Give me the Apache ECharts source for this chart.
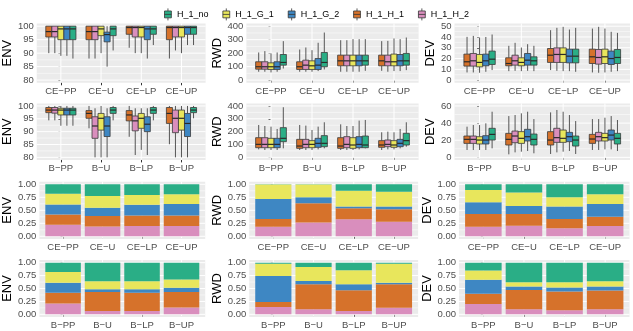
<!DOCTYPE html>
<html><head><meta charset="utf-8">
<script src="https://cdn.jsdelivr.net/npm/echarts@6/dist/echarts.min.js"></script>
<style>html,body{margin:0;padding:0;background:#fff}#c{width:633px;height:331px}</style>
</head><body><div id="c"></div>
<script>
// ---------------- data ----------------
const catsCE = ['CE\u2212PP', 'CE\u2212U', 'CE\u2212LP', 'CE\u2212UP'];
const catsB = ['B\u2212PP', 'B\u2212U', 'B\u2212LP', 'B\u2212UP'];
const boxOrder = ['H_1_H_1', 'H_1_H_2', 'H_1_G_1', 'H_1_G_2', 'H_1_no'];   // dodge order (left -> right)
const stackOrder = ['H_1_H_2', 'H_1_H_1', 'H_1_G_2', 'H_1_G_1', 'H_1_no']; // stack order (bottom -> top)
const legendOrder = ['H_1_no', 'H_1_G_1', 'H_1_G_2', 'H_1_H_1', 'H_1_H_2'];

// boxplots: rows follow boxOrder; each row = 4 categories of [min, q1, median, q3, max]
const boxEnvCE = [
  [[90,96,98,100,100],[88,95,98,100,100],[92,97,99.5,100,100],[88,95,99.5,100,100]],
  [[90,96,98,100,100],[88,95,98,100,100],[90,96,99.5,100,100],[91,96,99.5,100,100]],
  [[89,95,99,100,100],[90,96.5,99,100,100],[90,96,99.5,100,100],[90,96,99.5,100,100]],
  [[89,95,99,100,100],[85,94.2,96.9,97.8,100],[88,95,99,100,100],[93,97,99.5,100,100]],
  [[88,95,99,100,100],[91,96.5,99,100,100],[93,97,99,100,100],[93,97,99.5,100,100]]
];
const boxEnvB = [
  [[94.4,97.4,98.4,99.4,100],[91.3,95.2,97.1,98.2,100],[88,94.2,96.5,98.2,100],[85.1,93.2,97.1,99.4,100]],
  [[94.4,97.2,98.4,99.4,100],[80,87.4,92.2,95.8,99.1],[80.9,90.3,94.2,96.1,99.1],[80,89.6,95.2,98.4,100]],
  [[92.3,96.5,98.4,99.1,100],[80,90.6,95.2,97.1,100],[82.9,91.3,95.2,97.1,99.1],[80,90.6,95.2,98.4,100]],
  [[92.3,96.5,98.4,99.1,100],[80,88.1,92.2,95.8,99.1],[80.9,90,92.9,95.8,99.1],[80,88.1,93.2,97.1,100]],
  [[92.3,96.5,98.4,99.1,100],[94.4,97.1,98.4,99.4,100],[94.4,97.1,98.4,99.4,100],[95.2,97.4,98.4,99.4,100]]
];
const boxRwdCE = [
  [[62,81,99,136,205],[62,79,99,136,227],[62,106,143,185,296],[69,106,143,185,289]],
  [[62,81,99,136,215],[62,79,111,148,242],[62,106,143,185,296],[62,106,136,185,291]],
  [[57,79,99,128,198],[62,79,106,143,222],[62,106,143,185,304],[67,106,136,193,309]],
  [[62,79,99,136,205],[67,79,111,160,277],[62,106,143,185,304],[67,106,143,190,304]],
  [[86,111,131,190,289],[79,99,131,205,353],[69,111,143,185,304],[74,111,143,198,316]]
];
const boxRwdB = [
  [[62,75,101,153,252],[57,70,88,140,252],[57,70,88,153,257],[57,78,96,130,195]],
  [[57,75,101,153,244],[57,75,101,140,247],[57,75,101,161,244],[62,83,101,135,200]],
  [[57,75,101,148,239],[57,75,101,130,213],[57,70,96,153,244],[62,78,96,130,195]],
  [[57,75,101,148,221],[62,78,109,148,239],[62,75,101,161,286],[70,83,109,140,221]],
  [[70,122,148,231,390],[70,83,109,169,273],[70,75,96,166,291],[83,96,130,187,273]]
];
const boxDevCE = [
  [[7.1,13,17,24.1,40.1],[8.3,13.3,15.4,20.7,31.8],[9.3,16.4,23.1,29.3,46.3],[7.1,15.4,21.6,28.7,47.8]],
  [[7.1,13,17.9,24.7,41],[8.6,13.9,17.9,23.1,34.6],[8.6,16.4,23.8,29.9,48.5],[6.8,14.8,21,28.4,49.4]],
  [[6.8,12.3,16.4,23.8,39.5],[8.3,13.3,16.4,20.7,30.2],[8.3,16.4,23.8,29.9,49.4],[7.1,15.4,21.6,28.7,47.8]],
  [[7.7,13.3,17.9,24.1,40],[8.6,13.9,18.5,24.7,33.3],[8.3,16,22.2,28.7,46.9],[7.7,14.5,20,26.9,44.8]],
  [[9.3,14.5,19.4,26.9,42.3],[8.3,13.9,17.9,21.6,31.8],[7.7,16,22.2,28.7,48.5],[8.3,15.4,21,28.4,43.8]]
];
const boxDevB = [
  [[8.6,16.3,21,24.9,35.8],[3.5,14.4,21,28,48.2],[3.9,14.4,20.2,30,52.5],[8.6,16.3,21.4,26.8,44.7]],
  [[8.6,16.3,21,24.9,37.7],[5.8,17.1,24.9,30.7,49.4],[5.8,17.5,23,33.9,55.3],[8.6,19.1,24.1,29.2,44.7]],
  [[8.6,15.6,20.2,24.1,37.7],[6.6,16.3,22.2,30,51.4],[6.6,17.5,22.2,31.9,53.3],[9.3,19.1,23,28,46.3]],
  [[8.6,15.6,20.2,25.3,39.7],[7.4,19.1,24.1,32.7,53.3],[7.4,18.3,24.1,29.2,49.4],[9.3,20.2,26,31.9,48.2]],
  [[10.5,20.2,26.8,33.9,53.3],[4.7,14.4,21,27.2,44.7],[3.9,13.2,20.2,24.9,42.4],[7.4,15.6,22.2,28,43.6]]
];

// shares: rows follow stackOrder; each row = 4 categories
const shareEnvCE = [[.22,.19,.20,.20],[.20,.20,.20,.20],[.19,.16,.205,.22],[.21,.225,.19,.19],[.18,.225,.205,.19]];
const shareEnvB  = [[.21,.065,.065,.13],[.21,.367,.354,.30],[.19,.052,.065,.085],[.21,.155,.155,.16],[.18,.361,.361,.325]];
const shareRwdCE = [[.186,.263,.327,.282],[.147,.372,.211,.237],[.385,.115,.033,.052],[.279,.245,.307,.288],[.003,.005,.122,.141]];
const shareRwdB  = [[.142,.097,.065,.129],[.097,.484,.40,.452],[.503,.064,.116,.032],[.239,.271,.271,.368],[.019,.084,.148,.019]];
const shareDevCE = [[.186,.205,.154,.199],[.243,.224,.179,.179],[.225,.154,.238,.244],[.237,.257,.179,.186],[.109,.16,.25,.192]];
const shareDevB  = [[.20,.10,.08,.10],[.20,.37,.36,.36],[.27,.07,.08,.08],[.18,.08,.10,.10],[.15,.38,.38,.36]];

// tick labels
const ticksEnv = [80, 85, 90, 95, 100];
const ticksRwd = [0, 100, 200, 300, 400];
const ticksDevCE = [0, 10, 20, 30, 40, 50];
const ticksDevB = [0, 20, 40, 60];
const ticksShare = [0, 0.25, 0.5, 0.75, 1];

// ---------------- styling / layout ----------------
const colors = {H_1_no:'#2AAE86', H_1_G_1:'#E8E65C', H_1_G_2:'#3E87C3', H_1_H_1:'#D6722B', H_1_H_2:'#D98EBD'};
const FONT = '"Liberation Sans", Arial, Helvetica, sans-serif';
const rowsY = [[23.5, 82.8], [103.4, 159.9], [181.7, 238.9], [260.1, 316.9]];
const colsXBox = [[33.4, 205.6], [246.4, 418.6], [454.5, 630]];
const colsXBar = [[35.8, 205.2], [249.2, 418.1], [459, 629.5]];
const TICK_FS = 9.5, TITLE_FS = 13, LEGEND_FS = 9;

const panels = [
  {r:0,c:0,kind:'box',cats:catsCE,d:boxEnvCE,t:'ENV',ticks:ticksEnv,fmt:v=>String(v)},
  {r:0,c:1,kind:'box',cats:catsCE,d:boxRwdCE,t:'RWD',ticks:ticksRwd,fmt:v=>String(v)},
  {r:0,c:2,kind:'box',cats:catsCE,d:boxDevCE,t:'DEV',ticks:ticksDevCE,fmt:v=>String(v)},
  {r:1,c:0,kind:'box',cats:catsB,d:boxEnvB,t:'ENV',ticks:ticksEnv,fmt:v=>String(v)},
  {r:1,c:1,kind:'box',cats:catsB,d:boxRwdB,t:'RWD',ticks:ticksRwd,fmt:v=>String(v)},
  {r:1,c:2,kind:'box',cats:catsB,d:boxDevB,t:'DEV',ticks:ticksDevB,fmt:v=>String(v)},
  {r:2,c:0,kind:'bar',cats:catsCE,d:shareEnvCE,t:'ENV',ticks:ticksShare,fmt:v=>v.toFixed(2)},
  {r:2,c:1,kind:'bar',cats:catsCE,d:shareRwdCE,t:'RWD',ticks:ticksShare,fmt:v=>v.toFixed(2)},
  {r:2,c:2,kind:'bar',cats:catsCE,d:shareDevCE,t:'DEV',ticks:ticksShare,fmt:v=>v.toFixed(2)},
  {r:3,c:0,kind:'bar',cats:catsB,d:shareEnvB,t:'ENV',ticks:ticksShare,fmt:v=>v.toFixed(2)},
  {r:3,c:1,kind:'bar',cats:catsB,d:shareRwdB,t:'RWD',ticks:ticksShare,fmt:v=>v.toFixed(2)},
  {r:3,c:2,kind:'bar',cats:catsB,d:shareDevB,t:'DEV',ticks:ticksShare,fmt:v=>v.toFixed(2)}
];

const mctx = document.createElement('canvas').getContext('2d');
function textW(s, fs) { mctx.font = fs + 'px ' + FONT; return mctx.measureText(s).width; }

const X_MIN = -0.6, X_MAX = 3.6;
const grids = [], xAxes = [], yAxes = [], series = [];

function boxRenderer(k, n, color) {
  return function (params, api) {
    const xi = api.value(0);
    const unit = api.size([1, 0])[0];
    const w = unit * 0.75 / n;
    const cx = api.coord([xi, 0])[0] + (k - (n - 1) / 2) * w;
    const yMin = api.coord([xi, api.value(1)])[1];
    const yQ1 = api.coord([xi, api.value(2)])[1];
    const yMd = api.coord([xi, api.value(3)])[1];
    const yQ3 = api.coord([xi, api.value(4)])[1];
    const yMax = api.coord([xi, api.value(5)])[1];
    const wl = {stroke: '#555555', lineWidth: 1};
    return {type: 'group', children: [
      {type: 'line', shape: {x1: cx, y1: yMax, x2: cx, y2: yQ3}, style: wl},
      {type: 'line', shape: {x1: cx, y1: yQ1, x2: cx, y2: yMin}, style: wl},
      {type: 'rect', shape: {x: cx - w / 2, y: yQ3, width: w, height: Math.max(yQ1 - yQ3, 0.5)},
        style: {fill: color, stroke: '#3a3a3a', lineWidth: 0.8}},
      {type: 'line', shape: {x1: cx - w / 2, y1: yMd, x2: cx + w / 2, y2: yMd}, style: {stroke: '#2a2a2a', lineWidth: 1.2}}
    ]};
  };
}

function barRenderer(color) {
  return function (params, api) {
    const xi = api.value(0);
    const p0 = api.coord([xi - 0.45, api.value(2)]);
    const p1 = api.coord([xi + 0.45, api.value(1)]);
    return {type: 'rect', shape: {x: p0[0], y: p0[1], width: p1[0] - p0[0], height: p1[1] - p0[1]},
      style: {fill: color}};
  };
}

panels.forEach((p, i) => {
  const ys = rowsY[p.r];
  const xs = (p.kind === 'box' ? colsXBox : colsXBar)[p.c];
  const lo = p.ticks[0], hi = p.ticks[p.ticks.length - 1];
  const pad = (hi - lo) * 0.05;
  const yMin = lo - pad, yMax = hi + pad;
  const minor = [];
  for (let j = 0; j < p.ticks.length - 1; j++) minor.push((p.ticks[j] + p.ticks[j + 1]) / 2);
  const labW = Math.max(...p.ticks.map(v => textW(p.fmt(v), TICK_FS)));
  const catIdx = p.cats.map((_, j) => j);

  grids.push({left: xs[0], top: ys[0], width: xs[1] - xs[0], height: ys[1] - ys[0],
    show: true, backgroundColor: '#EBEBEB', borderWidth: 0, containLabel: false});
  xAxes.push({type: 'value', gridIndex: i, min: X_MIN, max: X_MAX,
    axisLine: {show: false}, splitLine: {show: false},
    axisTick: {show: true, customValues: catIdx, length: 2.5, lineStyle: {color: '#333333', width: 1}},
    axisLabel: {customValues: catIdx, formatter: v => p.cats[Math.round(v)], color: '#4D4D4D',
      fontSize: TICK_FS, fontFamily: FONT, margin: 3.5}});
  yAxes.push({type: 'value', gridIndex: i, min: yMin, max: yMax,
    axisLine: {show: false}, splitLine: {show: false},
    axisTick: {show: true, customValues: p.ticks, length: 2.5, lineStyle: {color: '#333333', width: 1}},
    axisLabel: {customValues: p.ticks, formatter: v => p.fmt(v), color: '#4D4D4D',
      fontSize: TICK_FS, fontFamily: FONT, margin: 3},
    name: p.t, nameLocation: 'middle', nameRotate: 90, nameGap: labW + 6,
    nameTextStyle: {fontSize: TITLE_FS, color: '#000', fontFamily: FONT}});

  // panel grid lines (major + minor), drawn through the axes' scales
  const gl = [];
  p.ticks.forEach(v => gl.push([0, v, 1]));
  minor.forEach(v => gl.push([0, v, 0]));
  catIdx.forEach(v => gl.push([1, v, 1]));
  series.push({type: 'custom', xAxisIndex: i, yAxisIndex: i, z: 1, silent: true, data: gl,
    renderItem: (params, api) => {
      const o = api.value(0), v = api.value(1), major = api.value(2);
      const a = o === 0 ? api.coord([X_MIN, v]) : api.coord([v, yMin]);
      const b = o === 0 ? api.coord([X_MAX, v]) : api.coord([v, yMax]);
      return {type: 'line', shape: {x1: a[0], y1: a[1], x2: b[0], y2: b[1]},
        style: {stroke: '#FFFFFF', lineWidth: major ? 1 : 0.5}};
    }});

  if (p.kind === 'box') {
    boxOrder.forEach((name, k) => {
      series.push({type: 'custom', name: name, xAxisIndex: i, yAxisIndex: i, z: 2,
        itemStyle: {color: colors[name]},
        data: p.d[k].map((s, ci) => [ci].concat(s)),
        encode: {x: 0, y: [1, 2, 3, 4, 5]},
        renderItem: boxRenderer(k, boxOrder.length, colors[name])});
    });
  } else {
    // stacked shares: each segment spans [cumulative below, cumulative below + share]
    const base = p.cats.map(() => 0);
    stackOrder.forEach((name, k) => {
      const rows = p.d[k].map((v, ci) => { const r = [ci, base[ci], base[ci] + v]; base[ci] += v; return r; });
      series.push({type: 'custom', name: name, xAxisIndex: i, yAxisIndex: i, z: 2,
        itemStyle: {color: colors[name]}, data: rows, encode: {x: 0, y: [1, 2]},
        renderItem: barRenderer(colors[name])});
    });
  }
});

const boxIcon = 'path://M4,0L4,3M0,3L8,3L8,11L0,11ZM0,7L8,7M4,11L4,14';
const chart = echarts.init(document.getElementById('c'), null, {renderer: 'canvas'});
chart.setOption({
  animation: false,
  backgroundColor: '#FFFFFF',
  textStyle: {fontFamily: FONT},
  legend: {top: 3, left: 'center', itemWidth: 8, itemHeight: 12, itemGap: 14, selectedMode: false,
    textStyle: {fontSize: LEGEND_FS, color: '#000', fontFamily: FONT},
    itemStyle: {borderColor: '#333333', borderWidth: 0.8},
    data: legendOrder.map(n => ({name: n, icon: boxIcon}))},
  grid: grids, xAxis: xAxes, yAxis: yAxes, series: series
});
</script></body></html>
